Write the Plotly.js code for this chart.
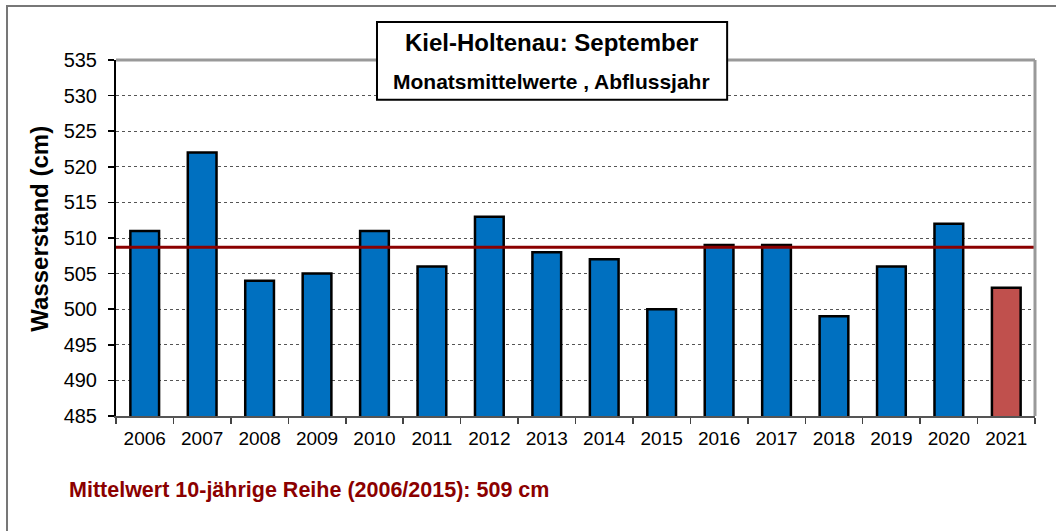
<!DOCTYPE html>
<html>
<head>
<meta charset="utf-8">
<script src="https://cdn.plot.ly/plotly-3.0.1.min.js"></script>
<style>html,body{margin:0;padding:0;background:#fff}#chart{width:1056px;height:531px}</style>
</head>
<body>
<div id="chart"></div>
<script>
var years = ['2006','2007','2008','2009','2010','2011','2012','2013','2014','2015','2016','2017','2018','2019','2020','2021'];
var wasserstand = [511, 522, 504, 505, 511, 506, 513, 508, 507, 500, 509, 509, 499, 506, 512, 503];
var referenceYears = ['2006','2007','2008','2009','2010','2011','2012','2013','2014','2015'];
var currentYear = '2021';
var yTicks = [485, 490, 495, 500, 505, 510, 515, 520, 525, 530, 535];

var refVals = years.map(function(y,i){return referenceYears.indexOf(y) >= 0 ? wasserstand[i] : null;}).filter(function(v){return v!==null;});
var mean = refVals.reduce(function(a,b){return a+b;},0) / refVals.length;

var colors = years.map(function(y){return y === currentYear ? '#C0504D' : '#0070C0';});

var bars = {
  type: 'bar', x: years, y: wasserstand,
  marker: {color: colors, line: {color: '#000000', width: 2.5}},
  width: 0.5, hoverinfo: 'x+y', showlegend: false
};

var layout = {
  width: 1056, height: 531,
  margin: {l: 116, r: 21, t: 60, b: 115},
  paper_bgcolor: '#ffffff', plot_bgcolor: '#ffffff',
  font: {family: 'Liberation Sans, Arial, sans-serif', color: '#000'},
  xaxis: {
    type: 'category', tickson: 'boundaries', ticks: 'outside', ticklen: 6, tickcolor: '#444', tickwidth: 1.5,
    ticklabelstandoff: 4,
    showgrid: false, showline: true, linecolor: '#555', linewidth: 2,
    tickfont: {size: 19, family: 'Liberation Sans, Arial, sans-serif'}, fixedrange: true
  },
  yaxis: {
    range: [485, 535], tickvals: yTicks, ticktext: yTicks.map(String),
    ticks: 'outside', ticklen: 6, tickcolor: '#000', tickwidth: 1.5,
    ticklabelstandoff: 7,
    showline: true, linecolor: '#000', linewidth: 2,
    showgrid: true, gridcolor: '#555', griddash: 'dot', gridwidth: 1,
    zeroline: false,
    tickfont: {size: 20, family: 'Liberation Sans, Arial, sans-serif'},
    fixedrange: true
  },
  shapes: [
    {type: 'line', xref: 'paper', yref: 'y', x0: 0, x1: 1, y0: mean, y1: mean, line: {color: '#8B0000', width: 3}},
    {type: 'line', xref: 'paper', yref: 'paper', x0: 0, x1: 1, y0: 1, y1: 1, line: {color: '#999', width: 3}},
    {type: 'line', xref: 'paper', yref: 'paper', x0: 1, x1: 1, y0: 0, y1: 1, line: {color: '#999', width: 3}},
    {type: 'rect', xref: 'paper', yref: 'paper', x0: -0.1186, x1: 1.2, y0: -0.5, y1: 1.152, line: {color: '#777', width: 2}, fillcolor: 'rgba(0,0,0,0)', layer: 'below'},
    {type: 'rect', xref: 'paper', yref: 'paper', x0: 0.284, x1: 0.665, y0: 0.888, y1: 1.107, line: {color: '#000', width: 2}, fillcolor: '#ffffff'}
  ],
  annotations: [
    {xref: 'paper', yref: 'paper', x: 0.474, y: 1.05, text: '<b>Kiel-Holtenau: September</b>', showarrow: false, font: {size: 24, color: '#000'}, xanchor: 'center', yanchor: 'middle'},
    {xref: 'paper', yref: 'paper', x: 0.474, y: 0.94, text: '<b>Monatsmittelwerte , Abflussjahr</b>', showarrow: false, font: {size: 21, color: '#000'}, xanchor: 'center', yanchor: 'middle'},
    {xref: 'paper', yref: 'paper', x: -0.0842, y: 0.525, text: '<b>Wasserstand (cm)</b>', textangle: -90, showarrow: false, font: {size: 24, color: '#000'}, xanchor: 'center', yanchor: 'middle'},
    {xref: 'paper', yref: 'paper', x: -0.0537, y: -0.208, text: '<b>Mittelwert 10-jährige Reihe (2006/2015): ' + Math.round(mean) + ' cm</b>', showarrow: false, font: {size: 21.5, color: '#8B0000'}, xanchor: 'left', yanchor: 'middle'}
  ],
  bargap: 0.5
};

Plotly.newPlot('chart', [bars], layout, {displayModeBar: false, staticPlot: true});
</script>
</body>
</html>
